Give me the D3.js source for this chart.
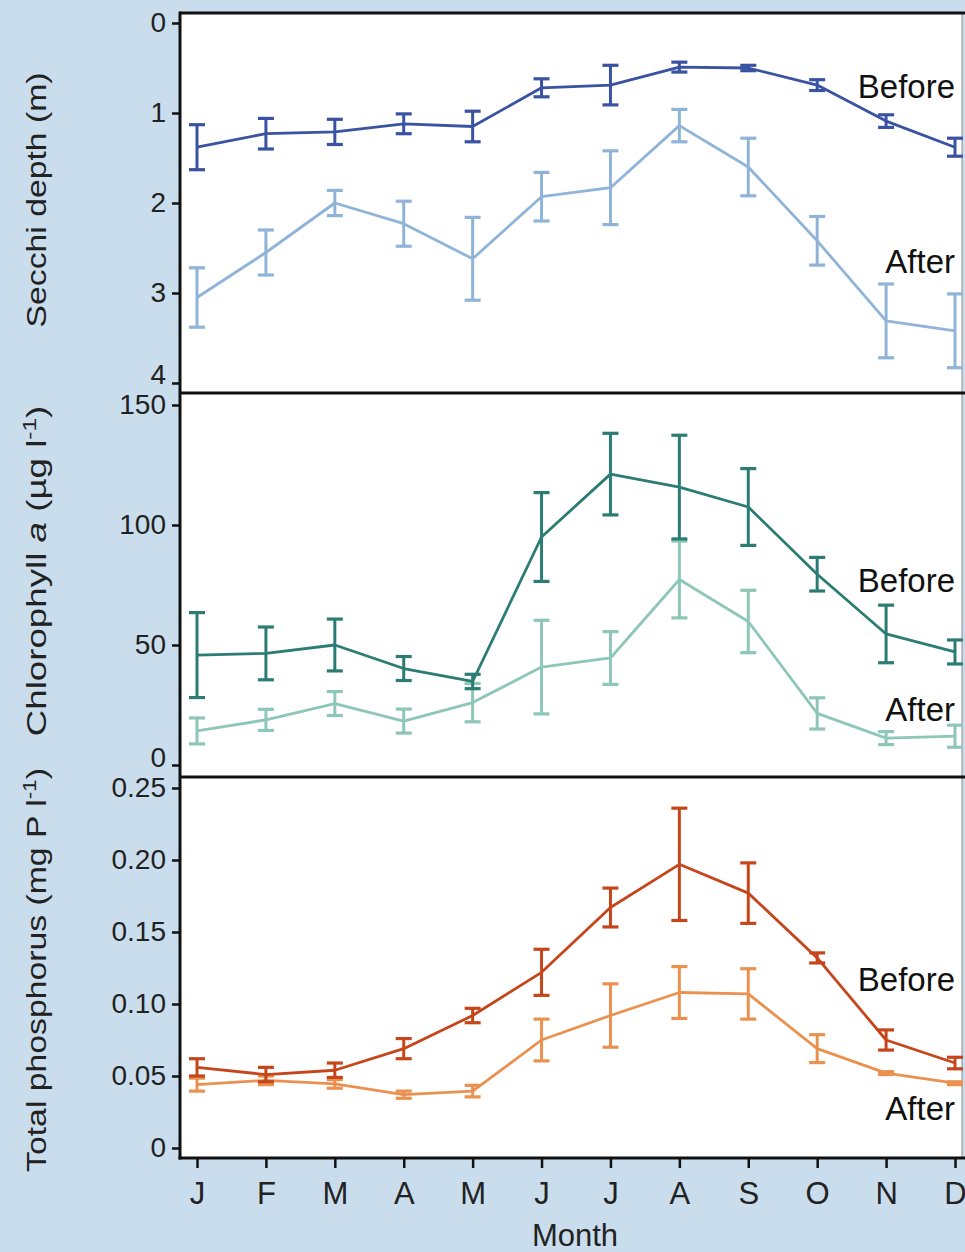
<!DOCTYPE html>
<html>
<head>
<meta charset="utf-8">
<script src="https://cdn.jsdelivr.net/npm/d3@7"></script>
<style>
  html, body { margin: 0; padding: 0; background: #c9ddec; }
  svg { display: block; font-family: "Liberation Sans", Arial, sans-serif; }
</style>
</head>
<body>
<svg id="chart" width="965" height="1252"></svg>
<script>
// Months along the x axis
const months = ["J", "F", "M", "A", "M", "J", "J", "A", "S", "O", "N", "D"];

// Secchi depth (m), mean and error
const secchiBefore    = [1.38, 1.23, 1.21, 1.12, 1.15, 0.72, 0.69, 0.49, 0.50, 0.69, 1.09, 1.38];
const secchiBeforeErr = [0.25, 0.17, 0.14, 0.11, 0.17, 0.10, 0.22, 0.055, 0.03, 0.06, 0.07, 0.10];
const secchiAfter     = [3.05, 2.55, 2.00, 2.23, 2.62, 1.93, 1.83, 1.14, 1.60, 2.42, 3.31, 3.42];
const secchiAfterErr  = [0.33, 0.25, 0.14, 0.25, 0.46, 0.27, 0.41, 0.18, 0.32, 0.27, 0.41, 0.41];

// Chlorophyll a (µg l-1)
const chlBefore    = [45.8, 46.5, 50.0, 40.2, 34.8, 95.0, 121.2, 115.8, 107.5, 79.5, 54.6, 47.1];
const chlBeforeErr = [17.7, 11.0, 10.8, 5.0, 3.0, 18.5, 17.0, 21.6, 16.0, 7.0, 12.0, 5.0];
const chlAfter     = [14.2, 18.8, 25.6, 18.3, 26.0, 40.8, 44.6, 77.3, 59.8, 21.5, 11.2, 12.0];
const chlAfterErr  = [5.4, 4.4, 5.0, 5.0, 8.0, 19.5, 11.0, 16.0, 13.0, 6.5, 2.7, 4.6];

// Total phosphorus (mg P l-1)
const tpBefore    = [0.056, 0.051, 0.054, 0.069, 0.092, 0.122, 0.167, 0.197, 0.177, 0.132, 0.075, 0.059];
const tpBeforeErr = [0.006, 0.005, 0.005, 0.007, 0.005, 0.016, 0.0135, 0.039, 0.021, 0.0035, 0.007, 0.004];
const tpAfter     = [0.044, 0.047, 0.0445, 0.037, 0.0395, 0.075, 0.092, 0.108, 0.107, 0.069, 0.052, 0.045];
const tpAfterErr  = [0.0045, 0.003, 0.003, 0.0025, 0.004, 0.0145, 0.022, 0.018, 0.0175, 0.0097, 0.001, 0.001];

// Tick values per panel
const secchiTicks = [0, 1, 2, 3, 4];
const chlTicks = [0, 50, 100, 150];
const tpTicks = [0, 0.05, 0.10, 0.15, 0.20, 0.25];

const svg = d3.select("#chart");
const left = 180, right = 962;
const frameTop = 13, frameBottom = 1158;

// Plot background
svg.append("rect")
  .attr("x", left).attr("y", frameTop)
  .attr("width", right - left).attr("height", frameBottom - frameTop)
  .attr("fill", "#ffffff");
svg.append("line")
  .attr("x1", right).attr("x2", right)
  .attr("y1", frameTop).attr("y2", frameBottom)
  .attr("stroke", "#9a9a9a").attr("stroke-width", 1.2);

const x = d3.scalePoint().domain(d3.range(months.length)).range([197, 955]);

const panels = [
  {
    top: 13, bottom: 393,
    y: d3.scaleLinear().domain([0, 4]).range([23, 383]),
    ticks: secchiTicks, fmt: d => d3.format("d")(d), raise: 8,
    series: [
      { v: secchiBefore, e: secchiBeforeErr, color: "#3a52a2" },
      { v: secchiAfter, e: secchiAfterErr, color: "#8fb4d8" }
    ],
    labels: [{ text: "Before", y: 98 }, { text: "After", y: 273 }]
  },
  {
    top: 393, bottom: 777,
    y: d3.scaleLinear().domain([0, 150]).range([765, 405]),
    ticks: chlTicks, fmt: d => d3.format("d")(d), raise: 7,
    series: [
      { v: chlBefore, e: chlBeforeErr, color: "#2b7c73" },
      { v: chlAfter, e: chlAfterErr, color: "#8ec6b7" }
    ],
    labels: [{ text: "Before", y: 592 }, { text: "After", y: 721 }]
  },
  {
    top: 777, bottom: 1158,
    y: d3.scaleLinear().domain([0, 0.25]).range([1148, 788]),
    ticks: tpTicks, fmt: d => d === 0 ? "0" : d3.format(".2f")(d), raise: 0,
    series: [
      { v: tpBefore, e: tpBeforeErr, color: "#c6461b" },
      { v: tpAfter, e: tpAfterErr, color: "#eb9150" }
    ],
    labels: [{ text: "Before", y: 991 }, { text: "After", y: 1120 }]
  }
];

panels.forEach(p => {
  const g = svg.append("g");

  // Series: line plus error bars (light series drawn first, dark on top)
  p.series.slice().reverse().forEach(s => {
    const line = d3.line().x((d, i) => x(i)).y(d => p.y(d));
    g.append("path")
      .datum(s.v)
      .attr("d", line)
      .attr("fill", "none")
      .attr("stroke", s.color)
      .attr("stroke-width", 2.8)
      .attr("stroke-linejoin", "round");
    const bars = g.append("g").selectAll("g").data(s.v).join("g");
    bars.append("line")
      .attr("x1", (d, i) => x(i)).attr("x2", (d, i) => x(i))
      .attr("y1", (d, i) => p.y(d - s.e[i])).attr("y2", (d, i) => p.y(d + s.e[i]))
      .attr("stroke", s.color).attr("stroke-width", 3);
    [-1, 1].forEach(sign => {
      bars.append("line")
        .attr("x1", (d, i) => x(i) - 8).attr("x2", (d, i) => x(i) + 8)
        .attr("y1", (d, i) => p.y(d + sign * s.e[i]))
        .attr("y2", (d, i) => p.y(d + sign * s.e[i]))
        .attr("stroke", s.color).attr("stroke-width", 3.2);
    });
  });

  // Panel top border
  svg.append("line")
    .attr("x1", left).attr("x2", right + 5)
    .attr("y1", p.top).attr("y2", p.top)
    .attr("stroke", "#111").attr("stroke-width", 3);

  // Y axis
  const axis = d3.axisLeft(p.y).tickValues(p.ticks).tickFormat(p.fmt).tickSize(8).tickPadding(6);
  const ag = svg.append("g").attr("transform", `translate(${left},0)`).call(axis);
  ag.select(".domain").remove();
  ag.selectAll(".tick line").attr("stroke", "#111").attr("stroke-width", 2.5);
  ag.selectAll(".tick text")
    .attr("font-size", 28).attr("fill", "#222")
    .attr("font-family", "Liberation Sans, Arial, sans-serif");
  // The label at the foot of the panel sits a little higher, clear of the next panel's top label
  const footY = d3.max(p.ticks, t => p.y(t));
  ag.selectAll(".tick text").filter(d => p.y(d) === footY)
    .attr("y", -p.raise);

  // Series labels
  p.labels.forEach(l => {
    svg.append("text")
      .attr("x", 955).attr("y", l.y)
      .attr("text-anchor", "end")
      .attr("font-size", 33).attr("fill", "#111")
      .text(l.text);
  });
});

// Left axis line spanning all panels
svg.append("line")
  .attr("x1", left).attr("x2", left)
  .attr("y1", frameTop - 1.5).attr("y2", frameBottom + 1.5)
  .attr("stroke", "#111").attr("stroke-width", 3);

// Bottom x axis
const xAxis = d3.axisBottom(x).tickFormat(i => months[i]).tickSize(10).tickPadding(14);
const xg = svg.append("g").attr("transform", `translate(0,${frameBottom})`).call(xAxis);
xg.select(".domain").remove();
xg.selectAll(".tick line").attr("stroke", "#111").attr("stroke-width", 2.5);
xg.selectAll(".tick text").attr("font-size", 31).attr("fill", "#222")
  .attr("font-family", "Liberation Sans, Arial, sans-serif");
svg.append("line")
  .attr("x1", left - 1.5).attr("x2", right + 5)
  .attr("y1", frameBottom).attr("y2", frameBottom)
  .attr("stroke", "#111").attr("stroke-width", 3);

svg.append("text")
  .attr("x", 575).attr("y", 1246)
  .attr("text-anchor", "middle")
  .attr("font-size", 31).attr("fill", "#222")
  .text("Month");

// Y axis titles, set in a tall narrow face
function yTitle(cy, stretch) {
  return svg.append("text")
    .attr("transform", `translate(46,${cy}) rotate(-90) scale(${stretch},1)`)
    .attr("text-anchor", "middle")
    .attr("font-size", 27).attr("fill", "#222");
}
yTitle(200, 1.25).text("Secchi depth (m)");

const chlTitle = yTitle(571, 1.36);
chlTitle.append("tspan").text("Chlorophyll ");
chlTitle.append("tspan").attr("font-style", "italic").text("a");
chlTitle.append("tspan").text(" (µg l");
chlTitle.append("tspan").attr("dy", -10).attr("font-size", 18).text("-1");
chlTitle.append("tspan").attr("dy", 10).text(")");

const tpTitle = yTitle(970, 1.25);
tpTitle.append("tspan").text("Total phosphorus (mg P l");
tpTitle.append("tspan").attr("dy", -10).attr("font-size", 18).text("-1");
tpTitle.append("tspan").attr("dy", 10).text(")");
</script>
</body>
</html>
